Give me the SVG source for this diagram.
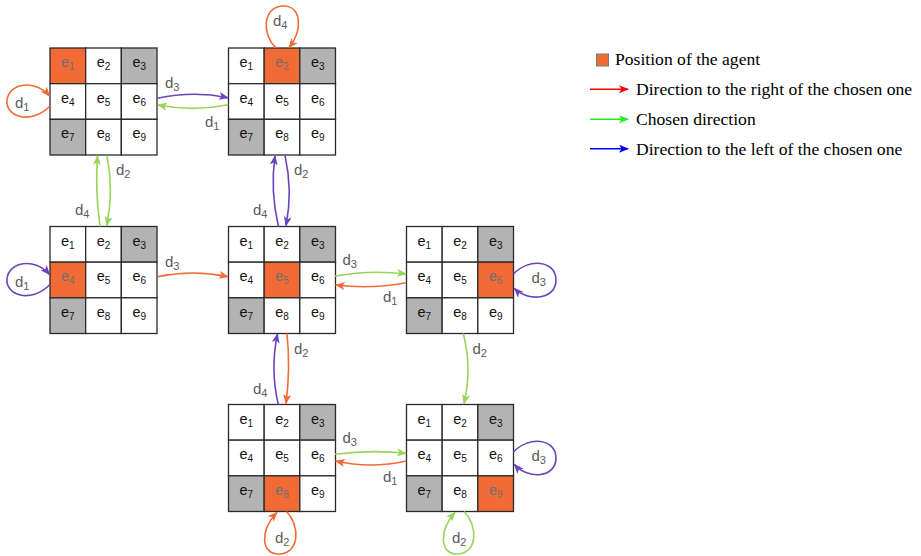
<svg xmlns="http://www.w3.org/2000/svg" width="921" height="556" viewBox="0 0 921 556">
<defs>
<style>
.c{fill:#ffffff;stroke:#2a2a2a;stroke-width:1.3}
.g{fill:#b3b3b3;stroke:#2a2a2a;stroke-width:1.3}
.a{fill:#f26b36;stroke:#2a2a2a;stroke-width:1.3}
.t{font-family:"Liberation Sans",Arial,sans-serif;font-size:14.5px;fill:#111;text-anchor:middle}
.ta{fill:#6e6e6e}
.s{font-size:10px}
.lbl{font-family:"Liberation Sans",Arial,sans-serif;font-size:15px;fill:#5a5a5a}
.ls{font-size:11px}
.po{fill:none;stroke:#f26b36;stroke-width:1.6;marker-end:url(#mo)}
.pp{fill:none;stroke:#6b43bf;stroke-width:1.6;marker-end:url(#mp)}
.pg{fill:none;stroke:#96d45a;stroke-width:1.6;marker-end:url(#mg)}
.leg{font-family:"Liberation Serif","Times New Roman",serif;font-size:17.6px;fill:#000}
</style>
<marker id="mo" markerUnits="userSpaceOnUse" markerWidth="11" markerHeight="9" refX="9" refY="4" orient="auto"><path d="M0,0 L10,4 L0,8 L2.5,4 z" fill="#f26b36"/></marker>
<marker id="mp" markerUnits="userSpaceOnUse" markerWidth="11" markerHeight="9" refX="9" refY="4" orient="auto"><path d="M0,0 L10,4 L0,8 L2.5,4 z" fill="#6b43bf"/></marker>
<marker id="mg" markerUnits="userSpaceOnUse" markerWidth="11" markerHeight="9" refX="9" refY="4" orient="auto"><path d="M0,0 L10,4 L0,8 L2.5,4 z" fill="#96d45a"/></marker>
<marker id="mr" markerUnits="userSpaceOnUse" markerWidth="11" markerHeight="9" refX="9" refY="4" orient="auto"><path d="M0,0 L10,4 L0,8 L2.5,4 z" fill="#ff0000"/></marker>
<marker id="mgl" markerUnits="userSpaceOnUse" markerWidth="11" markerHeight="9" refX="9" refY="4" orient="auto"><path d="M0,0 L10,4 L0,8 L2.5,4 z" fill="#22ee22"/></marker>
<marker id="mb" markerUnits="userSpaceOnUse" markerWidth="11" markerHeight="9" refX="9" refY="4" orient="auto"><path d="M0,0 L10,4 L0,8 L2.5,4 z" fill="#0000ff"/></marker>
</defs>
<rect width="921" height="556" fill="#ffffff"/>

<!-- Grid TL: agent e1 -->
<g id="gridTL" transform="translate(50,48)">
<rect class="a" x="0" y="0" width="35.67" height="35.67"/><rect class="c" x="35.67" y="0" width="35.67" height="35.67"/><rect class="g" x="71.33" y="0" width="35.67" height="35.67"/>
<rect class="c" x="0" y="35.67" width="35.67" height="35.67"/><rect class="c" x="35.67" y="35.67" width="35.67" height="35.67"/><rect class="c" x="71.33" y="35.67" width="35.67" height="35.67"/>
<rect class="g" x="0" y="71.33" width="35.67" height="35.67"/><rect class="c" x="35.67" y="71.33" width="35.67" height="35.67"/><rect class="c" x="71.33" y="71.33" width="35.67" height="35.67"/>
<text class="t ta" x="17.8" y="19">e<tspan class="s" dy="3">1</tspan></text><text class="t" x="53.5" y="19">e<tspan class="s" dy="3">2</tspan></text><text class="t" x="89.2" y="19">e<tspan class="s" dy="3">3</tspan></text>
<text class="t" x="17.8" y="54.7">e<tspan class="s" dy="3">4</tspan></text><text class="t" x="53.5" y="54.7">e<tspan class="s" dy="3">5</tspan></text><text class="t" x="89.2" y="54.7">e<tspan class="s" dy="3">6</tspan></text>
<text class="t" x="17.8" y="90.3">e<tspan class="s" dy="3">7</tspan></text><text class="t" x="53.5" y="90.3">e<tspan class="s" dy="3">8</tspan></text><text class="t" x="89.2" y="90.3">e<tspan class="s" dy="3">9</tspan></text>
</g>

<!-- Grid TM: agent e2 -->
<g id="gridTM" transform="translate(228.5,48)">
<rect class="c" x="0" y="0" width="35.67" height="35.67"/><rect class="a" x="35.67" y="0" width="35.67" height="35.67"/><rect class="g" x="71.33" y="0" width="35.67" height="35.67"/>
<rect class="c" x="0" y="35.67" width="35.67" height="35.67"/><rect class="c" x="35.67" y="35.67" width="35.67" height="35.67"/><rect class="c" x="71.33" y="35.67" width="35.67" height="35.67"/>
<rect class="g" x="0" y="71.33" width="35.67" height="35.67"/><rect class="c" x="35.67" y="71.33" width="35.67" height="35.67"/><rect class="c" x="71.33" y="71.33" width="35.67" height="35.67"/>
<text class="t" x="17.8" y="19">e<tspan class="s" dy="3">1</tspan></text><text class="t ta" x="53.5" y="19">e<tspan class="s" dy="3">2</tspan></text><text class="t" x="89.2" y="19">e<tspan class="s" dy="3">3</tspan></text>
<text class="t" x="17.8" y="54.7">e<tspan class="s" dy="3">4</tspan></text><text class="t" x="53.5" y="54.7">e<tspan class="s" dy="3">5</tspan></text><text class="t" x="89.2" y="54.7">e<tspan class="s" dy="3">6</tspan></text>
<text class="t" x="17.8" y="90.3">e<tspan class="s" dy="3">7</tspan></text><text class="t" x="53.5" y="90.3">e<tspan class="s" dy="3">8</tspan></text><text class="t" x="89.2" y="90.3">e<tspan class="s" dy="3">9</tspan></text>
</g>

<!-- Grid ML: agent e4 -->
<g id="gridML" transform="translate(50,226.5)">
<rect class="c" x="0" y="0" width="35.67" height="35.67"/><rect class="c" x="35.67" y="0" width="35.67" height="35.67"/><rect class="g" x="71.33" y="0" width="35.67" height="35.67"/>
<rect class="a" x="0" y="35.67" width="35.67" height="35.67"/><rect class="c" x="35.67" y="35.67" width="35.67" height="35.67"/><rect class="c" x="71.33" y="35.67" width="35.67" height="35.67"/>
<rect class="g" x="0" y="71.33" width="35.67" height="35.67"/><rect class="c" x="35.67" y="71.33" width="35.67" height="35.67"/><rect class="c" x="71.33" y="71.33" width="35.67" height="35.67"/>
<text class="t" x="17.8" y="19">e<tspan class="s" dy="3">1</tspan></text><text class="t" x="53.5" y="19">e<tspan class="s" dy="3">2</tspan></text><text class="t" x="89.2" y="19">e<tspan class="s" dy="3">3</tspan></text>
<text class="t ta" x="17.8" y="54.7">e<tspan class="s" dy="3">4</tspan></text><text class="t" x="53.5" y="54.7">e<tspan class="s" dy="3">5</tspan></text><text class="t" x="89.2" y="54.7">e<tspan class="s" dy="3">6</tspan></text>
<text class="t" x="17.8" y="90.3">e<tspan class="s" dy="3">7</tspan></text><text class="t" x="53.5" y="90.3">e<tspan class="s" dy="3">8</tspan></text><text class="t" x="89.2" y="90.3">e<tspan class="s" dy="3">9</tspan></text>
</g>

<!-- Grid MM: agent e5 -->
<g id="gridMM" transform="translate(228.5,226.5)">
<rect class="c" x="0" y="0" width="35.67" height="35.67"/><rect class="c" x="35.67" y="0" width="35.67" height="35.67"/><rect class="g" x="71.33" y="0" width="35.67" height="35.67"/>
<rect class="c" x="0" y="35.67" width="35.67" height="35.67"/><rect class="a" x="35.67" y="35.67" width="35.67" height="35.67"/><rect class="c" x="71.33" y="35.67" width="35.67" height="35.67"/>
<rect class="g" x="0" y="71.33" width="35.67" height="35.67"/><rect class="c" x="35.67" y="71.33" width="35.67" height="35.67"/><rect class="c" x="71.33" y="71.33" width="35.67" height="35.67"/>
<text class="t" x="17.8" y="19">e<tspan class="s" dy="3">1</tspan></text><text class="t" x="53.5" y="19">e<tspan class="s" dy="3">2</tspan></text><text class="t" x="89.2" y="19">e<tspan class="s" dy="3">3</tspan></text>
<text class="t" x="17.8" y="54.7">e<tspan class="s" dy="3">4</tspan></text><text class="t ta" x="53.5" y="54.7">e<tspan class="s" dy="3">5</tspan></text><text class="t" x="89.2" y="54.7">e<tspan class="s" dy="3">6</tspan></text>
<text class="t" x="17.8" y="90.3">e<tspan class="s" dy="3">7</tspan></text><text class="t" x="53.5" y="90.3">e<tspan class="s" dy="3">8</tspan></text><text class="t" x="89.2" y="90.3">e<tspan class="s" dy="3">9</tspan></text>
</g>

<!-- Grid MR: agent e6 -->
<g id="gridMR" transform="translate(406.5,226.5)">
<rect class="c" x="0" y="0" width="35.67" height="35.67"/><rect class="c" x="35.67" y="0" width="35.67" height="35.67"/><rect class="g" x="71.33" y="0" width="35.67" height="35.67"/>
<rect class="c" x="0" y="35.67" width="35.67" height="35.67"/><rect class="c" x="35.67" y="35.67" width="35.67" height="35.67"/><rect class="a" x="71.33" y="35.67" width="35.67" height="35.67"/>
<rect class="g" x="0" y="71.33" width="35.67" height="35.67"/><rect class="c" x="35.67" y="71.33" width="35.67" height="35.67"/><rect class="c" x="71.33" y="71.33" width="35.67" height="35.67"/>
<text class="t" x="17.8" y="19">e<tspan class="s" dy="3">1</tspan></text><text class="t" x="53.5" y="19">e<tspan class="s" dy="3">2</tspan></text><text class="t" x="89.2" y="19">e<tspan class="s" dy="3">3</tspan></text>
<text class="t" x="17.8" y="54.7">e<tspan class="s" dy="3">4</tspan></text><text class="t" x="53.5" y="54.7">e<tspan class="s" dy="3">5</tspan></text><text class="t ta" x="89.2" y="54.7">e<tspan class="s" dy="3">6</tspan></text>
<text class="t" x="17.8" y="90.3">e<tspan class="s" dy="3">7</tspan></text><text class="t" x="53.5" y="90.3">e<tspan class="s" dy="3">8</tspan></text><text class="t" x="89.2" y="90.3">e<tspan class="s" dy="3">9</tspan></text>
</g>

<!-- Grid BM: agent e8 -->
<g id="gridBM" transform="translate(228.5,404.5)">
<rect class="c" x="0" y="0" width="35.67" height="35.67"/><rect class="c" x="35.67" y="0" width="35.67" height="35.67"/><rect class="g" x="71.33" y="0" width="35.67" height="35.67"/>
<rect class="c" x="0" y="35.67" width="35.67" height="35.67"/><rect class="c" x="35.67" y="35.67" width="35.67" height="35.67"/><rect class="c" x="71.33" y="35.67" width="35.67" height="35.67"/>
<rect class="g" x="0" y="71.33" width="35.67" height="35.67"/><rect class="a" x="35.67" y="71.33" width="35.67" height="35.67"/><rect class="c" x="71.33" y="71.33" width="35.67" height="35.67"/>
<text class="t" x="17.8" y="19">e<tspan class="s" dy="3">1</tspan></text><text class="t" x="53.5" y="19">e<tspan class="s" dy="3">2</tspan></text><text class="t" x="89.2" y="19">e<tspan class="s" dy="3">3</tspan></text>
<text class="t" x="17.8" y="54.7">e<tspan class="s" dy="3">4</tspan></text><text class="t" x="53.5" y="54.7">e<tspan class="s" dy="3">5</tspan></text><text class="t" x="89.2" y="54.7">e<tspan class="s" dy="3">6</tspan></text>
<text class="t" x="17.8" y="90.3">e<tspan class="s" dy="3">7</tspan></text><text class="t ta" x="53.5" y="90.3">e<tspan class="s" dy="3">8</tspan></text><text class="t" x="89.2" y="90.3">e<tspan class="s" dy="3">9</tspan></text>
</g>

<!-- Grid BR: agent e9 -->
<g id="gridBR" transform="translate(406.5,404.5)">
<rect class="c" x="0" y="0" width="35.67" height="35.67"/><rect class="c" x="35.67" y="0" width="35.67" height="35.67"/><rect class="g" x="71.33" y="0" width="35.67" height="35.67"/>
<rect class="c" x="0" y="35.67" width="35.67" height="35.67"/><rect class="c" x="35.67" y="35.67" width="35.67" height="35.67"/><rect class="c" x="71.33" y="35.67" width="35.67" height="35.67"/>
<rect class="g" x="0" y="71.33" width="35.67" height="35.67"/><rect class="c" x="35.67" y="71.33" width="35.67" height="35.67"/><rect class="a" x="71.33" y="71.33" width="35.67" height="35.67"/>
<text class="t" x="17.8" y="19">e<tspan class="s" dy="3">1</tspan></text><text class="t" x="53.5" y="19">e<tspan class="s" dy="3">2</tspan></text><text class="t" x="89.2" y="19">e<tspan class="s" dy="3">3</tspan></text>
<text class="t" x="17.8" y="54.7">e<tspan class="s" dy="3">4</tspan></text><text class="t" x="53.5" y="54.7">e<tspan class="s" dy="3">5</tspan></text><text class="t" x="89.2" y="54.7">e<tspan class="s" dy="3">6</tspan></text>
<text class="t" x="17.8" y="90.3">e<tspan class="s" dy="3">7</tspan></text><text class="t" x="53.5" y="90.3">e<tspan class="s" dy="3">8</tspan></text><text class="t ta" x="89.2" y="90.3">e<tspan class="s" dy="3">9</tspan></text>
</g>

<!-- Connectors -->
<g id="connectors">
<path class="pp" d="M157.5,98.3 Q193,90.5 228,97.7"/>
<path class="pg" d="M228.3,104.7 Q193,111.8 158,105"/>
<path class="po" d="M50,106 C30,126 5,116 7,100 C9,83 35,79 49.5,96"/>
<path class="po" d="M276,48 C262,35 262,8 282,6 C302,5 303,30 289,47.5"/>
<path class="pg" d="M100,226.5 Q95,191 97.5,156"/>
<path class="pg" d="M107,155.5 Q114,191 106.7,225.5"/>
<path class="pp" d="M278.5,226.5 Q270,191 275,156"/>
<path class="pp" d="M285,155.5 Q293,191 286,225.5"/>
<path class="pp" d="M50,284.5 C30,304.5 5,294.5 7,278.5 C9,261.5 35,257.5 49.5,274.5"/>
<path class="po" d="M157.5,276.7 Q193,269.3 228,276.7"/>
<path class="pg" d="M335,276 Q370.5,269.6 406,274"/>
<path class="po" d="M406.5,282.7 Q370.5,289.5 335.8,285"/>
<path class="pp" d="M513.5,274 C528,258 556,260 556,280 C556,300 528,302 514.5,288.5"/>
<path class="pp" d="M278.3,404.5 Q270,369 277.5,334"/>
<path class="po" d="M287,333.5 Q290.6,369 286,403.5"/>
<path class="pg" d="M463.3,333.5 Q472.3,369 464,403.5"/>
<path class="pg" d="M335,454.3 Q370.5,449.6 406,453.3"/>
<path class="po" d="M406.5,461 Q370.5,469 335.8,461"/>
<path class="pp" d="M513.5,452 C528,436 556,438 556,458 C556,478 528,480 514.5,464.5"/>
<path class="po" d="M286.5,511.5 C300,525 300,553 280,554 C260,555 260,530 277,512.5"/>
<path class="pg" d="M464,511.5 C478,525 478,553 458,554 C439,555 439,530 455,512.5"/>
</g>

<!-- Connector labels -->
<g id="labels">
<text class="lbl" x="165" y="88">d<tspan class="ls" dy="3">3</tspan></text>
<text class="lbl" x="205" y="126.5">d<tspan class="ls" dy="3">1</tspan></text>
<text class="lbl" x="15" y="108">d<tspan class="ls" dy="3">1</tspan></text>
<text class="lbl" x="273" y="26">d<tspan class="ls" dy="3">4</tspan></text>
<text class="lbl" x="116" y="175">d<tspan class="ls" dy="3">2</tspan></text>
<text class="lbl" x="75" y="215">d<tspan class="ls" dy="3">4</tspan></text>
<text class="lbl" x="294" y="175">d<tspan class="ls" dy="3">2</tspan></text>
<text class="lbl" x="253" y="215">d<tspan class="ls" dy="3">4</tspan></text>
<text class="lbl" x="15" y="286.5">d<tspan class="ls" dy="3">1</tspan></text>
<text class="lbl" x="165" y="266.5">d<tspan class="ls" dy="3">3</tspan></text>
<text class="lbl" x="342.5" y="265">d<tspan class="ls" dy="3">3</tspan></text>
<text class="lbl" x="383" y="301.5">d<tspan class="ls" dy="3">1</tspan></text>
<text class="lbl" x="531.5" y="282.5">d<tspan class="ls" dy="3">3</tspan></text>
<text class="lbl" x="294" y="354">d<tspan class="ls" dy="3">2</tspan></text>
<text class="lbl" x="253" y="394">d<tspan class="ls" dy="3">4</tspan></text>
<text class="lbl" x="472.5" y="354">d<tspan class="ls" dy="3">2</tspan></text>
<text class="lbl" x="342.5" y="443">d<tspan class="ls" dy="3">3</tspan></text>
<text class="lbl" x="383" y="481.5">d<tspan class="ls" dy="3">1</tspan></text>
<text class="lbl" x="531.5" y="460.5">d<tspan class="ls" dy="3">3</tspan></text>
<text class="lbl" x="275" y="543">d<tspan class="ls" dy="3">2</tspan></text>
<text class="lbl" x="452" y="543">d<tspan class="ls" dy="3">2</tspan></text>
</g>

<!-- Legend -->
<g id="legend">
<rect x="596.5" y="54" width="12" height="12" fill="#f26b36" stroke="#7a7a7a" stroke-width="1"/>
<text class="leg" x="615" y="65">Position of the agent</text>
<line x1="590" y1="89.3" x2="628" y2="89.3" stroke="#ff0000" stroke-width="1.6" marker-end="url(#mr)"/>
<text class="leg" x="636" y="95">Direction to the right of the chosen one</text>
<line x1="590" y1="119.3" x2="628" y2="119.3" stroke="#22ee22" stroke-width="1.6" marker-end="url(#mgl)"/>
<text class="leg" x="636" y="125">Chosen direction</text>
<line x1="590" y1="148.7" x2="628" y2="148.7" stroke="#0000ff" stroke-width="1.6" marker-end="url(#mb)"/>
<text class="leg" x="636" y="154.5">Direction to the left of the chosen one</text>
</g>
</svg>
